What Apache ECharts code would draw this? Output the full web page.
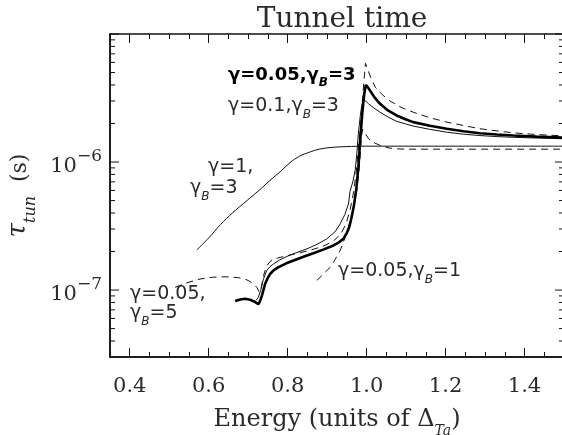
<!DOCTYPE html>
<html><head><meta charset="utf-8">
<script src="https://cdn.jsdelivr.net/npm/echarts@6/dist/echarts.min.js"></script>
<style>html,body{margin:0;padding:0;background:#fff}#c{width:562px;height:435px}</style>
</head><body><div id="c"></div>
<script>
// ---- data (energy in units of Delta_Ta, tau in seconds) ----
const xLabelTicks = [0.4, 0.6, 0.8, 1.0, 1.2, 1.4];
const xMinorTicks = [0.35,0.4,0.45,0.5,0.55,0.6,0.65,0.7,0.75,0.8,0.85,0.9,0.95,1.0,1.05,1.1,1.15,1.2,1.25,1.3,1.35,1.4,1.45,1.5];
const yLabelTicks = [1e-7, 1e-6];
const yMajorTicks = [1e-7, 1e-6, 1e-5];
const yMinorTicks = [4e-8,5e-8,6e-8,7e-8,8e-8,9e-8,2e-7,3e-7,4e-7,5e-7,6e-7,7e-7,8e-7,9e-7,2e-6,3e-6,4e-6,5e-6,6e-6,7e-6,8e-6,9e-6];

const thickG005B3 = [[0.667,8.2e-8],[0.68,8.45e-8],[0.692,8.55e-8],[0.705,8.4e-8],[0.715,8.15e-8],[0.726,7.75e-8],[0.73,8.2e-8],[0.735,9.1e-8],[0.743,1.12e-7],[0.75,1.25e-7],[0.756,1.34e-7],[0.765,1.43e-7],[0.777,1.51e-7],[0.795,1.61e-7],[0.815,1.70e-7],[0.84,1.82e-7],[0.865,1.94e-7],[0.89,2.07e-7],[0.916,2.23e-7],[0.93,2.36e-7],[0.941,2.51e-7],[0.95,2.8e-7],[0.956,3.1e-7],[0.962,3.7e-7],[0.968,4.6e-7],[0.974,6.2e-7],[0.979,9e-7],[0.984,1.5e-6],[0.989,2.4e-6],[0.994,3.4e-6],[0.998,4.0e-6],[1.003,3.85e-6],[1.009,3.6e-6],[1.02,3.2e-6],[1.034,2.85e-6],[1.055,2.52e-6],[1.076,2.31e-6],[1.1,2.15e-6],[1.118,2.05e-6],[1.16,1.92e-6],[1.203,1.82e-6],[1.245,1.74e-6],[1.287,1.68e-6],[1.33,1.64e-6],[1.372,1.61e-6],[1.43,1.58e-6],[1.5,1.55e-6]];
const thinG01B3 = [[0.72,8.3e-8],[0.726,8.8e-8],[0.732,1.0e-7],[0.738,1.2e-7],[0.747,1.42e-7],[0.755,1.52e-7],[0.764,1.6e-7],[0.78,1.72e-7],[0.798,1.83e-7],[0.82,1.95e-7],[0.849,2.1e-7],[0.875,2.28e-7],[0.899,2.51e-7],[0.92,2.85e-7],[0.933,3.29e-7],[0.945,3.9e-7],[0.954,4.7e-7],[0.958,5.9e-7],[0.965,7.0e-7],[0.971,8.6e-7],[0.975,1.15e-6],[0.979,1.66e-6],[0.984,2.3e-6],[0.988,2.8e-6],[0.992,3.1e-6],[0.997,3.0e-6],[1.005,2.85e-6],[1.018,2.65e-6],[1.034,2.45e-6],[1.055,2.24e-6],[1.076,2.08e-6],[1.1,1.98e-6],[1.118,1.91e-6],[1.16,1.8e-6],[1.203,1.71e-6],[1.245,1.65e-6],[1.287,1.61e-6],[1.33,1.58e-6],[1.372,1.56e-6],[1.43,1.54e-6],[1.5,1.52e-6]];
const thinG1B3 = [[0.570,2.06e-7],[0.60,2.55e-7],[0.63,3.25e-7],[0.66,4.0e-7],[0.697,5.0e-7],[0.73,6.1e-7],[0.76,7.4e-7],[0.785,8.6e-7],[0.806,9.9e-7],[0.83,1.11e-6],[0.857,1.2e-6],[0.88,1.26e-6],[0.91,1.3e-6],[0.95,1.32e-6],[1.0,1.33e-6],[1.25,1.33e-6],[1.5,1.33e-6]];
const dashG005B5 = [[0.515,1.05e-7],[0.545,1.14e-7],[0.578,1.22e-7],[0.61,1.26e-7],[0.646,1.27e-7],[0.675,1.25e-7],[0.697,1.2e-7],[0.712,1.13e-7],[0.722,1.05e-7],[0.728,9.6e-8],[0.733,1.04e-7],[0.739,1.3e-7],[0.747,1.55e-7],[0.756,1.68e-7],[0.775,1.78e-7],[0.80,1.86e-7],[0.83,1.95e-7],[0.86,2.06e-7],[0.89,2.2e-7],[0.915,2.4e-7],[0.935,2.75e-7],[0.948,3.3e-7],[0.958,4.2e-7],[0.966,5.6e-7],[0.973,8e-7],[0.979,1.25e-6],[0.985,2.0e-6],[0.99,3.2e-6],[0.994,4.6e-6],[0.997,5.9e-6],[1.0,5.7e-6],[1.01,4.6e-6],[1.022,3.84e-6],[1.04,3.35e-6],[1.059,3.0e-6],[1.09,2.65e-6],[1.118,2.45e-6],[1.16,2.22e-6],[1.203,2.05e-6],[1.245,1.93e-6],[1.287,1.82e-6],[1.33,1.75e-6],[1.372,1.69e-6],[1.43,1.64e-6],[1.5,1.6e-6]];
const dashG005B1 = [[0.874,1.19e-7],[0.89,1.33e-7],[0.908,1.51e-7],[0.92,1.73e-7],[0.933,2.04e-7],[0.944,2.5e-7],[0.954,3.1e-7],[0.962,3.8e-7],[0.968,4.7e-7],[0.975,6.0e-7],[0.98,8.2e-7],[0.984,1.15e-6],[0.987,1.6e-6],[0.99,1.8e-6],[0.995,1.7e-6],[1.005,1.52e-6],[1.018,1.42e-6],[1.034,1.35e-6],[1.05,1.3e-6],[1.07,1.27e-6],[1.1,1.26e-6],[1.3,1.26e-6],[1.5,1.26e-6]];

// ---- chart ----
const X_MIN = 0.35, X_MAX = 1.5, Y_MIN = 3e-8, Y_MAX = 1e-5;
const SERIF = '"DejaVu Serif", "Liberation Serif", serif';
const SANS = '"DejaVu Sans", "Liberation Sans", sans-serif';
const INK = '#111';
const TXT = '#2a2a2a';

function xAxisDef(pos, ticks, len, labels) {
  return {
    type: 'value', position: pos, min: X_MIN, max: X_MAX, gridIndex: 0,
    axisLine: { show: labels, onZero: false, lineStyle: { color: INK, width: 1.6 } },
    splitLine: { show: false },
    axisTick: { show: true, inside: true, length: len, customValues: ticks, lineStyle: { color: INK, width: 1 } },
    axisLabel: labels ? { show: true, customValues: xLabelTicks, margin: 19, fontFamily: SERIF, fontSize: 21, color: TXT,
      formatter: v => v.toFixed(1) } : { show: false }
  };
}

function annot(left, top, main, sub, tail, bold) {
  const w = bold ? 'bold' : 'normal';
  const col = bold ? '#000' : TXT;
  const fs = bold ? 18 : 19;
  const text = sub ? '{a|' + main + '}{b|' + sub + '}{a|' + tail + '}' : '{a|' + main + '}';
  return { type: 'text', left: left, top: top, style: { text: text, rich: {
    a: { fontFamily: SANS, fontWeight: w, fontSize: fs, fill: col, verticalAlign: 'bottom', lineHeight: 26, padding: [0,0,5,0] },
    b: { fontFamily: SANS, fontWeight: w, fontStyle: 'italic', fontSize: 12, fill: col, verticalAlign: 'bottom', lineHeight: 26 } } } };
}

const yTickData = yMinorTicks.map(v => [X_MIN, v, 0]).concat(yMajorTicks.map(v => [X_MIN, v, 1]));

const chart = echarts.init(document.getElementById('c'), null, { renderer: 'canvas' });
chart.setOption({
  backgroundColor: '#fff',
  animation: false,
  title: { text: 'Tunnel time', left: 337, textAlign: 'center', top: 1, textStyle: { fontFamily: SERIF, fontSize: 28, fontWeight: 'normal', color: TXT } },
  grid: { left: 110, top: 34, width: 454, height: 323, show: true, borderColor: INK, borderWidth: 1.5,
    backgroundColor: 'transparent', containLabel: false, outerBoundsMode: 'none' },
  xAxis: [
    Object.assign(xAxisDef('bottom', xLabelTicks, 9, true), {
      name: '{t|Energy (units of Δ}{sub|Ta}{t|)}', nameLocation: 'middle', nameGap: 47,
      nameTextStyle: { rich: {
        t: { fontFamily: SERIF, fontSize: 24, color: TXT, verticalAlign: 'bottom', lineHeight: 34, padding: [0,0,6,0] },
        sub: { fontFamily: SERIF, fontStyle: 'italic', fontSize: 14, color: TXT, verticalAlign: 'bottom', lineHeight: 34 } } }
    }),
    xAxisDef('bottom', xMinorTicks, 5, false),
    xAxisDef('top', xLabelTicks, 9, false),
    xAxisDef('top', xMinorTicks, 5, false)
  ],
  yAxis: {
    type: 'log', logBase: 10, min: Y_MIN, max: Y_MAX,
    axisLine: { show: true, lineStyle: { color: INK, width: 1.5 } },
    splitLine: { show: false }, axisTick: { show: false }, minorTick: { show: false },
    axisLabel: { show: true, margin: 8, color: TXT,
      formatter: function (v) {
        const e = Math.log10(v);
        const r = Math.round(e);
        if (Math.abs(e - r) < 1e-6 && yLabelTicks.some(t => Math.abs(Math.log10(t) - r) < 1e-6)) return '{b|10}{s|−' + (-r) + '}';
        return '';
      },
      rich: {
        b: { fontFamily: SERIF, fontSize: 21, color: TXT, verticalAlign: 'bottom', lineHeight: 34, padding: [0,0,2,0] },
        s: { fontFamily: SERIF, fontSize: 17, color: TXT, verticalAlign: 'bottom', lineHeight: 34, padding: [0,0,14,0] }
      }
    },
    name: '{tau|τ}{sub|tun}{p|  (s)}', nameLocation: 'middle', nameRotate: 90, nameGap: 68,
    nameTextStyle: { rich: {
      tau: { fontFamily: SERIF, fontStyle: 'italic', fontSize: 26, color: TXT, verticalAlign: 'bottom', lineHeight: 40, padding: [0,0,8,0] },
      sub: { fontFamily: SERIF, fontStyle: 'italic', fontSize: 16, color: TXT, verticalAlign: 'bottom', lineHeight: 40 },
      p: { fontFamily: SERIF, fontSize: 22, color: TXT, verticalAlign: 'bottom', lineHeight: 40, padding: [0,0,8,0] } } }
  },
  series: [
    { type: 'line', name: 'g1b3', data: thinG1B3, showSymbol: false, smooth: 0.3, lineStyle: { color: INK, width: 1 } },
    { type: 'line', name: 'g01b3', data: thinG01B3, showSymbol: false, lineStyle: { color: INK, width: 1 } },
    { type: 'line', name: 'g005b5', data: dashG005B5, showSymbol: false, lineStyle: { color: INK, width: 1, type: [7, 5] } },
    { type: 'line', name: 'g005b1', data: dashG005B1, showSymbol: false, lineStyle: { color: INK, width: 1, type: [7, 5] } },
    { type: 'line', name: 'g005b3', data: thickG005B3, showSymbol: false, lineStyle: { color: '#000', width: 2.6 } },
    { type: 'custom', name: 'yticks', data: yTickData, encode: { x: 0, y: 1 }, silent: true, clip: false,
      renderItem: function (params, api) {
        const v = api.value(1);
        const len = api.value(2) ? 9 : 5;
        const pL = api.coord([X_MIN, v]);
        const pR = api.coord([X_MAX, v]);
        const st = { stroke: INK, lineWidth: 1 };
        return { type: 'group', children: [
          { type: 'line', shape: { x1: pL[0], y1: pL[1], x2: pL[0] + len, y2: pL[1] }, style: st },
          { type: 'line', shape: { x1: pR[0] - len, y1: pR[1], x2: pR[0], y2: pR[1] }, style: st }
        ] };
      }
    }
  ],
  graphic: [
    annot(228, 66, 'γ=0.05,γ', 'B', '=3', true),
    annot(228, 97, 'γ=0.1,γ', 'B', '=3', false),
    annot(208, 158, 'γ=1,', null, null, false),
    annot(190, 179, 'γ', 'B', '=3', false),
    annot(338, 262, 'γ=0.05,γ', 'B', '=1', false),
    annot(130, 285, 'γ=0.05,', null, null, false),
    annot(130, 304, 'γ', 'B', '=5', false)
  ]
});
</script></body></html>
